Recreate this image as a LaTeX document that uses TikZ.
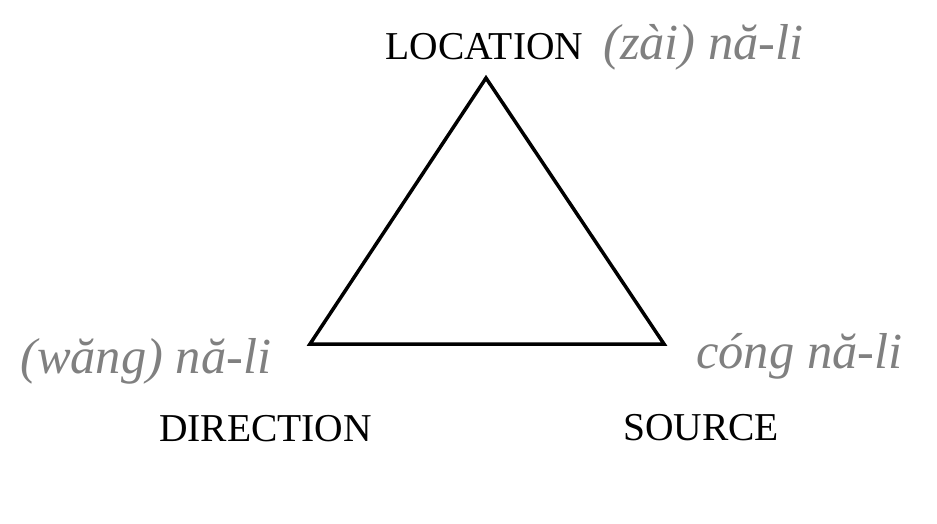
\documentclass[tikz,border=0pt]{standalone}
\usepackage{fontspec}
\setmainfont{Liberation Serif}
\definecolor{pinyingray}{HTML}{808080}
\begin{document}
\begin{tikzpicture}[x=1pt,y=-1pt,
  label/.style={inner sep=0pt,font=\fontsize{39.5}{42}\selectfont,text=black},
  pinyin/.style={inner sep=0pt,font=\fontsize{50.5}{54}\selectfont\itshape,text=pinyingray},
  tri/.style={draw=black,line width=3.5pt,line join=miter}]
\fill[white] (0,0) rectangle (937,523);
\useasboundingbox (0,0) rectangle (937,523);
\coordinate (top) at (486,78);
\coordinate (bl) at (310,344);
\coordinate (br) at (664,344);
\draw[tri] (top) -- (bl) -- (br) -- cycle;
\node[label,anchor=base] (loc) at (484.5,59) {LOCATION};
\node[pinyin,anchor=base west] (zai) at (603,59) {(zài) nă-li};
\node[pinyin,anchor=base west] (wang) at (20,373) {(wăng) nă-li};
\node[pinyin,anchor=base west] (cong) at (696,368) {cóng nă-li};
\node[label,anchor=base west] (dir) at (159,441.5) {DIRECTION};
\node[label,anchor=base west] (src) at (623,440.5) {SOURCE};
\end{tikzpicture}
\end{document}
